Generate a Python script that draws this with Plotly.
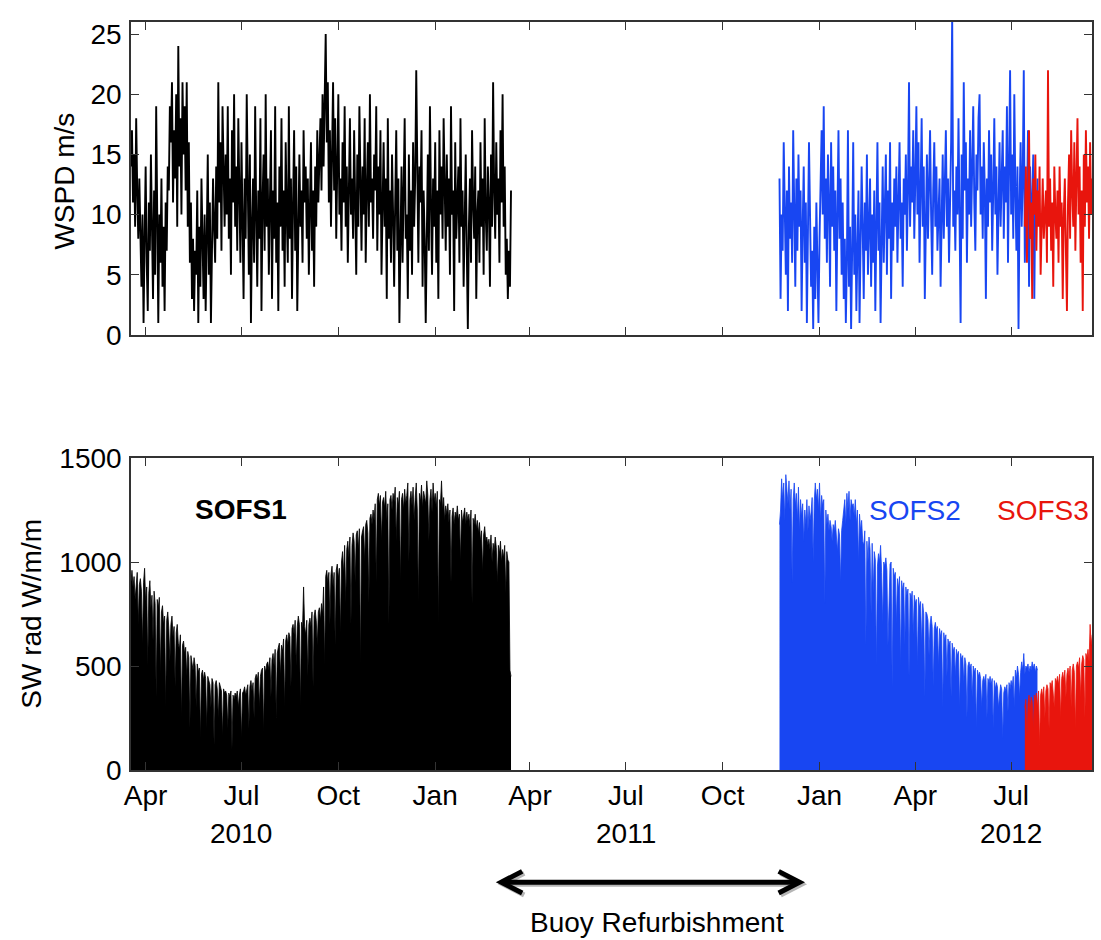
import pandas as pd
import plotly.graph_objects as go

# ---------------- data (daily values) ----------------
WSPD_SOFS1_START = "2010-03-18"
WSPD_SOFS1 = [
    14, 17, 11, 15, 9, 18, 12, 8, 13, 7,
    4, 10, 1, 8, 14, 6, 2, 11, 7, 15,
    9, 3, 12, 5, 19, 8, 1, 10, 6, 13,
    4, 9, 2, 11, 7, 14, 12, 19, 16, 21,
    11, 17, 13, 20, 9, 24, 14, 18, 10, 21,
    15, 19, 12, 21, 9, 16, 6, 11, 3, 8,
    2, 7, 5, 12, 1, 9, 4, 13, 6, 3,
    10, 2, 8, 15, 5, 11, 1, 7, 13, 9,
    6, 14, 8, 21, 11, 16, 7, 19, 12, 9,
    15, 10, 19, 8, 13, 5, 17, 11, 20, 9,
    14, 7, 18, 12, 6, 16, 10, 3, 13, 8,
    20, 11, 5, 15, 1, 9, 13, 6, 19, 10,
    4, 12, 8, 18, 2, 11, 15, 7, 20, 9,
    13, 5, 10, 17, 3, 12, 8, 19, 6, 11,
    2, 14, 9, 18, 7, 12, 4, 16, 10, 6,
    19, 8, 13, 3, 11, 17, 7, 14, 2, 10,
    15, 9, 12, 6, 17, 11, 14, 8, 13, 5,
    10, 16, 7, 12, 4, 14, 9, 17, 11, 15,
    18, 12, 20, 14, 19, 25, 16, 21, 11, 17,
    9, 15, 21, 12, 18, 8, 14, 20, 10, 13,
    7, 16, 11, 19, 9, 14, 6, 12, 18, 10,
    13, 8, 17, 11, 5, 15, 9, 19, 12, 7,
    14, 10, 18, 6, 12, 16, 9, 20, 11, 13,
    8, 15, 12, 19, 7, 14, 10, 17, 5, 11,
    16, 9, 13, 3, 18, 8, 12, 6, 15, 10,
    4, 11, 17, 7, 13, 1, 9, 14, 6, 12,
    18, 8, 10, 3, 15, 7, 12, 5, 16, 9,
    13, 22, 10, 6, 14, 11, 17, 4, 12, 8,
    1, 10, 15, 7, 19, 11, 5, 13, 9, 16,
    6, 12, 3, 17, 10, 14, 8, 18, 11, 7,
    15, 9, 13, 5, 19, 10, 12, 2, 16, 8,
    11, 14, 6, 18, 9, 12, 4, 10, 15, 7,
    0.5, 9, 13, 6, 17, 11, 8, 14, 3, 10,
    12, 6, 16, 9, 13, 5, 18, 10, 7, 14,
    11, 4, 15, 9, 21, 12, 8, 16, 10, 13,
    6, 17, 11, 20, 9, 14, 5, 8, 3, 7,
    4, 12,
]

WSPD_SOFS2_START = "2011-11-24"
WSPD_SOFS2 = [
    13, 3, 10, 7, 16, 9, 5, 12, 2, 14,
    8, 11, 6, 17, 10, 4, 13, 7, 15, 9,
    12, 2, 9, 14, 6, 11, 1, 8, 16, 10,
    4, 7, 0.5, 9, 3, 11, 6, 1, 8, 12,
    17, 10, 19, 8, 13, 6, 15, 11, 4, 16,
    9, 14, 7, 12, 2, 10, 17, 8, 13, 5,
    11, 3, 8, 1, 6, 17, 4, 9, 0.5, 7,
    16, 5, 10, 2, 8, 12, 1, 6, 14, 9,
    3, 11, 7, 15, 5, 9, 13, 4, 10, 6,
    12, 2, 8, 16, 7, 11, 1, 9, 14, 6,
    10, 15, 5, 12, 8, 16, 3, 11, 7, 13,
    9, 14, 6, 12, 16, 8, 11, 4, 13, 10,
    15, 7, 12, 21, 9, 14, 11, 17, 8, 13,
    19, 10, 16, 6, 12, 18, 9, 14, 3, 11,
    15, 8, 13, 17, 10, 5, 12, 16, 9, 14,
    7, 11, 13, 4, 10, 15, 8, 12, 17, 9,
    13, 6, 11, 16, 26.5, 9, 12, 7, 14, 10,
    18, 11, 1, 15, 8, 21, 12, 16, 6, 13,
    10, 17, 9, 14, 19, 11, 7, 15, 12, 18,
    20, 10, 14, 8, 16, 12, 3, 13, 9, 17,
    11, 15, 7, 12, 18, 10, 14, 5, 13, 16,
    9, 12, 17, 8, 14, 11, 19, 6, 13, 22,
    10, 15, 8, 20, 12, 7, 14, 0.5, 11, 16,
    9, 13, 22, 6, 12, 10, 17, 4, 14, 8,
    11, 15, 3, 12, 9, 13,
]

WSPD_SOFS3_START = "2012-07-14"
WSPD_SOFS3 = [
    9, 14, 6, 12, 17, 8, 11, 3, 13, 10,
    15, 7, 12, 9, 14, 5, 11, 13, 8, 10,
    12, 6, 22, 9, 13, 7, 11, 4, 14, 10,
    8, 12, 6, 14, 9, 11, 3, 10, 13, 7,
    2, 11, 15, 8, 17, 12, 9, 16, 7, 13,
    18, 10, 14, 6, 12, 2, 15, 9, 17, 11,
    14, 8, 16, 10, 13,
]

SW_SOFS1_START = "2010-03-18"
SW_SOFS1 = [
    900, 960, 880, 930, 820, 910, 950, 700, 890, 920,
    860, 600, 900, 970, 810, 880, 500, 850, 910, 780,
    840, 620, 860, 800, 350, 820, 780, 830, 460, 760,
    790, 700, 740, 300, 720, 760, 680, 520, 700, 740,
    640, 690, 400, 660, 700, 610, 580, 650, 250, 600,
    620, 560, 590, 450, 570, 540, 200, 550, 520, 480,
    540, 500, 300, 510, 470, 490, 150, 460, 480, 430,
    470, 440, 200, 450, 430, 410, 300, 440, 420, 120,
    410, 430, 390, 250, 420, 400, 380, 160, 390, 370,
    380, 360, 200, 370, 350, 380, 100, 360, 340, 370,
    350, 380, 300, 360, 390, 150, 370, 380, 400, 360,
    390, 410, 200, 400, 430, 380, 420, 250, 440, 460,
    430, 470, 300, 450, 480, 490, 180, 500, 470, 510,
    520, 480, 540, 350, 530, 560, 500, 580, 250, 560,
    590, 610, 450, 600, 570, 630, 300, 620, 650, 600,
    660, 640, 400, 680, 700, 650, 720, 500, 690, 740,
    700, 300, 710, 680, 880, 690, 650, 720, 450, 700,
    730, 690, 760, 400, 740, 770, 720, 600, 760, 780,
    720, 800, 750, 880, 500, 930, 960, 900, 950, 700,
    940, 980, 880, 950, 600, 960, 990, 920, 970, 650,
    1000, 1050, 940, 1080, 800, 1060, 1100, 1020, 1120, 700,
    1080, 1140, 1100, 900, 1130, 1150, 1060, 1160, 500, 1120,
    1150, 1170, 1000, 1180, 1200, 1140, 800, 1210, 1230, 1180,
    1250, 1200, 1280, 900, 1300, 1330, 1270, 1320, 1100, 1290,
    1310, 1260, 1340, 1200, 1280, 700, 1300, 1320, 1250, 1330,
    1290, 1360, 1100, 1310, 1270, 1340, 900, 1300, 1330, 1250,
    1350, 1280, 1320, 1380, 1000, 1300, 1340, 1270, 1360, 1200,
    1310, 1380, 1250, 800, 1330, 1290, 1370, 1260, 1340, 1300,
    1280, 1390, 1320, 1100, 1300, 1350, 1240, 1380, 1290, 1330,
    1260, 1340, 700, 1300, 1280, 1390, 1250, 1310, 1200, 1270,
    1230, 1280, 1190, 1250, 900, 1220, 1260, 1180, 1240, 1210,
    1270, 1200, 1230, 1000, 1250, 1190, 1220, 1260, 1180, 1240,
    1200, 1230, 1170, 1250, 800, 1210, 1180, 1230, 1160, 1200,
    1140, 1190, 1100, 1150, 950, 1130, 1170, 1100, 1120, 1080,
    1110, 1060, 1130, 1000, 1090, 1050, 1120, 1070, 900, 1080,
    1040, 1100, 1000, 1060, 1020, 1080, 850, 1050, 1010, 1000,
    480, 450,
]

SW_SOFS2_START = "2011-11-24"
SW_SOFS2 = [
    1180, 1250, 1400, 1300, 1380, 1200, 1420, 1320, 1280, 1390,
    1250, 1350, 900, 1300, 1380, 1270, 1330, 1200, 1360, 1150,
    1300, 1220, 1280, 1100, 1250, 1180, 1300, 1150, 1270, 1200,
    1240, 1310, 1000, 1290, 1380, 1300, 1350, 1250, 1380, 1200,
    1320, 1270, 1300, 800, 1250, 1180, 1230, 1150, 1200, 1170,
    1100, 1180, 1150, 1200, 1120, 1050, 1160, 1130, 900, 1150,
    1200, 1260, 1300, 1180, 1330, 1250, 1340, 1200, 1300, 1270,
    1280, 1220, 1300, 1180, 1250, 1000, 1230, 1150, 1200, 1100,
    1080, 1150, 600, 1100, 1000, 1120, 1060, 750, 1090, 850,
    1050, 1010, 500, 980, 1040, 1000, 1080, 950, 700, 1000,
    980, 1020, 960, 600, 900, 990, 1000, 400, 970, 930,
    950, 700, 920, 870, 930, 500, 910, 860, 900, 600,
    880, 840, 870, 450, 850, 820, 860, 650, 840, 800,
    820, 500, 830, 780, 810, 600, 800, 750, 350, 760,
    750, 720, 550, 700, 740, 690, 400, 680, 710, 670,
    690, 500, 680, 640, 670, 300, 660, 620, 650, 450,
    630, 600, 620, 350, 610, 570, 590, 450, 580, 550,
    570, 300, 560, 530, 550, 420, 540, 510, 250, 500,
    520, 490, 510, 350, 500, 470, 490, 200, 480, 450,
    470, 440, 300, 430, 450, 420, 460, 250, 440, 420,
    450, 410, 440, 200, 430, 390, 420, 400, 300, 380,
    410, 390, 150, 370, 400, 380, 410, 280, 420, 390,
    430, 400, 450, 300, 480, 440, 500, 460, 350, 470,
    520, 480, 560, 460, 500, 490, 510, 470, 500, 480,
    520, 490, 510, 470, 500, 480,
]

SW_SOFS3_START = "2012-07-14"
SW_SOFS3 = [
    300, 340, 150, 320, 360, 280, 350, 330, 200, 360,
    340, 370, 300, 380, 120, 360, 390, 350, 400, 250,
    380, 410, 390, 200, 420, 400, 430, 380, 300, 440,
    420, 450, 410, 460, 250, 440, 470, 430, 480, 350,
    460, 490, 450, 500, 300, 480, 510, 470, 200, 500,
    520, 490, 540, 350, 510, 550, 530, 250, 560, 540,
    580, 520, 700, 600, 650,
]

TICK_DATES = ["2010-04-01", "2010-07-01", "2010-10-01", "2011-01-01", "2011-04-01",
              "2011-07-01", "2011-10-01", "2012-01-01", "2012-04-01", "2012-07-01"]
TICK_LABELS = ["Apr", "Jul", "Oct", "Jan", "Apr", "Jul", "Oct", "Jan", "Apr", "Jul"]
YEAR_DATES = ["2010-07-01", "2011-07-01", "2012-07-01"]
YEAR_LABELS = ["2010", "2011", "2012"]
X_RANGE = ["2010-03-18 02:00", "2012-09-15 19:00"]
WSPD_TICKS = [0, 5, 10, 15, 20, 25]
SW_TICKS = [0, 500, 1000, 1500]

BLACK = "#000000"
BLUE = "#1846F2"
RED = "#E8150D"
FONT = "Liberation Sans, Arial, Helvetica, sans-serif"

W, H = 1101, 940
L, R, T, B = 131, 7, 10, 170


def px2x(px):
    return (px - L) / (W - L - R)


def py2y(py):
    return (H - B - py) / (H - T - B)


def dates(start, values):
    return pd.date_range(start, periods=len(values), freq="D")


fig = go.Figure()

# wind speed (top panel)
for start, vals, col in [(WSPD_SOFS1_START, WSPD_SOFS1, BLACK),
                         (WSPD_SOFS2_START, WSPD_SOFS2, BLUE),
                         (WSPD_SOFS3_START, WSPD_SOFS3, RED)]:
    fig.add_trace(go.Scatter(x=dates(start, vals), y=vals, mode="lines",
                             line=dict(color=col, width=1.9), xaxis="x", yaxis="y",
                             showlegend=False, hoverinfo="skip"))

# shortwave radiation (bottom panel)
for start, vals, col in [(SW_SOFS1_START, SW_SOFS1, BLACK),
                         (SW_SOFS2_START, SW_SOFS2, BLUE),
                         (SW_SOFS3_START, SW_SOFS3, RED)]:
    fig.add_trace(go.Scatter(x=dates(start, vals), y=vals, mode="lines",
                             line=dict(color=col, width=0.8), fill="tozeroy",
                             fillcolor=col, xaxis="x2", yaxis="y2",
                             showlegend=False, hoverinfo="skip"))

axis_common = dict(showline=True, linecolor="#333333", linewidth=1.5, mirror="ticks",
                   ticks="inside", ticklen=8, tickwidth=1.2, tickcolor="#333333",
                   showgrid=False, zeroline=False,
                   tickfont=dict(family=FONT, size=28, color="black"))

top_dom = [py2y(328), py2y(10)]
bot_dom = [py2y(770), py2y(453)]

fig.update_layout(
    width=W, height=H,
    margin=dict(l=L, r=R, t=T, b=B),
    paper_bgcolor="white", plot_bgcolor="white",
    font=dict(family=FONT, size=28, color="black"),
    xaxis=dict(axis_common, domain=[0, 1], anchor="y", type="date", range=X_RANGE,
               tickmode="array", tickvals=TICK_DATES, showticklabels=False),
    yaxis=dict(axis_common, domain=top_dom, anchor="x", range=[0, 26],
               tickmode="array", tickvals=WSPD_TICKS, ticklabelstandoff=2),
    xaxis2=dict(axis_common, domain=[0, 1], anchor="y2", type="date", range=X_RANGE,
                tickmode="array", tickvals=TICK_DATES, ticktext=TICK_LABELS,
                ticklabelstandoff=0),
    yaxis2=dict(axis_common, domain=bot_dom, anchor="x2", range=[0, 1500],
                tickmode="array", tickvals=SW_TICKS, ticklabelstandoff=2),
)

ann = []
# axis titles
ann.append(dict(text="WSPD m/s", x=px2x(64), y=py2y(172), xref="paper", yref="paper",
                textangle=-90, showarrow=False, xanchor="center", yanchor="middle",
                font=dict(size=28)))
ann.append(dict(text="SW rad W/m/m", x=px2x(31), y=py2y(611), xref="paper", yref="paper",
                textangle=-90, showarrow=False, xanchor="center", yanchor="middle",
                font=dict(size=28)))
# year labels
for d, lab in zip(YEAR_DATES, YEAR_LABELS):
    ann.append(dict(text=lab, x=d, xref="x2", y=py2y(835), yref="paper",
                    showarrow=False, xanchor="center", yanchor="middle",
                    font=dict(size=28)))
# series labels
ann.append(dict(text="<b>SOFS1</b>", x=px2x(193), y=py2y(505), xref="paper", yref="paper",
                showarrow=False, xanchor="left", yanchor="middle",
                font=dict(size=28, color=BLACK)))
ann.append(dict(text="SOFS2", x=px2x(869), y=py2y(506), xref="paper", yref="paper",
                showarrow=False, xanchor="left", yanchor="middle",
                font=dict(size=28, color=BLUE)))
ann.append(dict(text="SOFS3", x=px2x(997), y=py2y(506), xref="paper", yref="paper",
                showarrow=False, xanchor="left", yanchor="middle",
                font=dict(size=28, color=RED)))
# refurbishment label
ann.append(dict(text="Buoy Refurbishment", x=px2x(658), y=py2y(925), xref="paper",
                yref="paper", showarrow=False, xanchor="center", yanchor="middle",
                font=dict(size=28)))
fig.update_layout(annotations=ann)

# double-headed arrow (with soft shadow)
def arrow_shapes(dx, dy, color):
    shp = []
    y0 = 884 + dy
    shp.append(dict(type="line", xref="paper", yref="paper",
                    x0=px2x(504 + dx), x1=px2x(799 + dx), y0=py2y(y0), y1=py2y(y0),
                    line=dict(color=color, width=5)))
    for tip, back in [(502, 523), (801, 780)]:
        path = "M {},{} L {},{} L {},{}".format(
            px2x(back + dx), py2y(y0 - 11), px2x(tip + dx), py2y(y0),
            px2x(back + dx), py2y(y0 + 11))
        shp.append(dict(type="path", xref="paper", yref="paper", path=path,
                        line=dict(color=color, width=5)))
    return shp

shapes = arrow_shapes(2, 2, "#b5b5b5") + arrow_shapes(0, 0, "black")
fig.update_layout(shapes=shapes)

fig.write_html("out.html")
